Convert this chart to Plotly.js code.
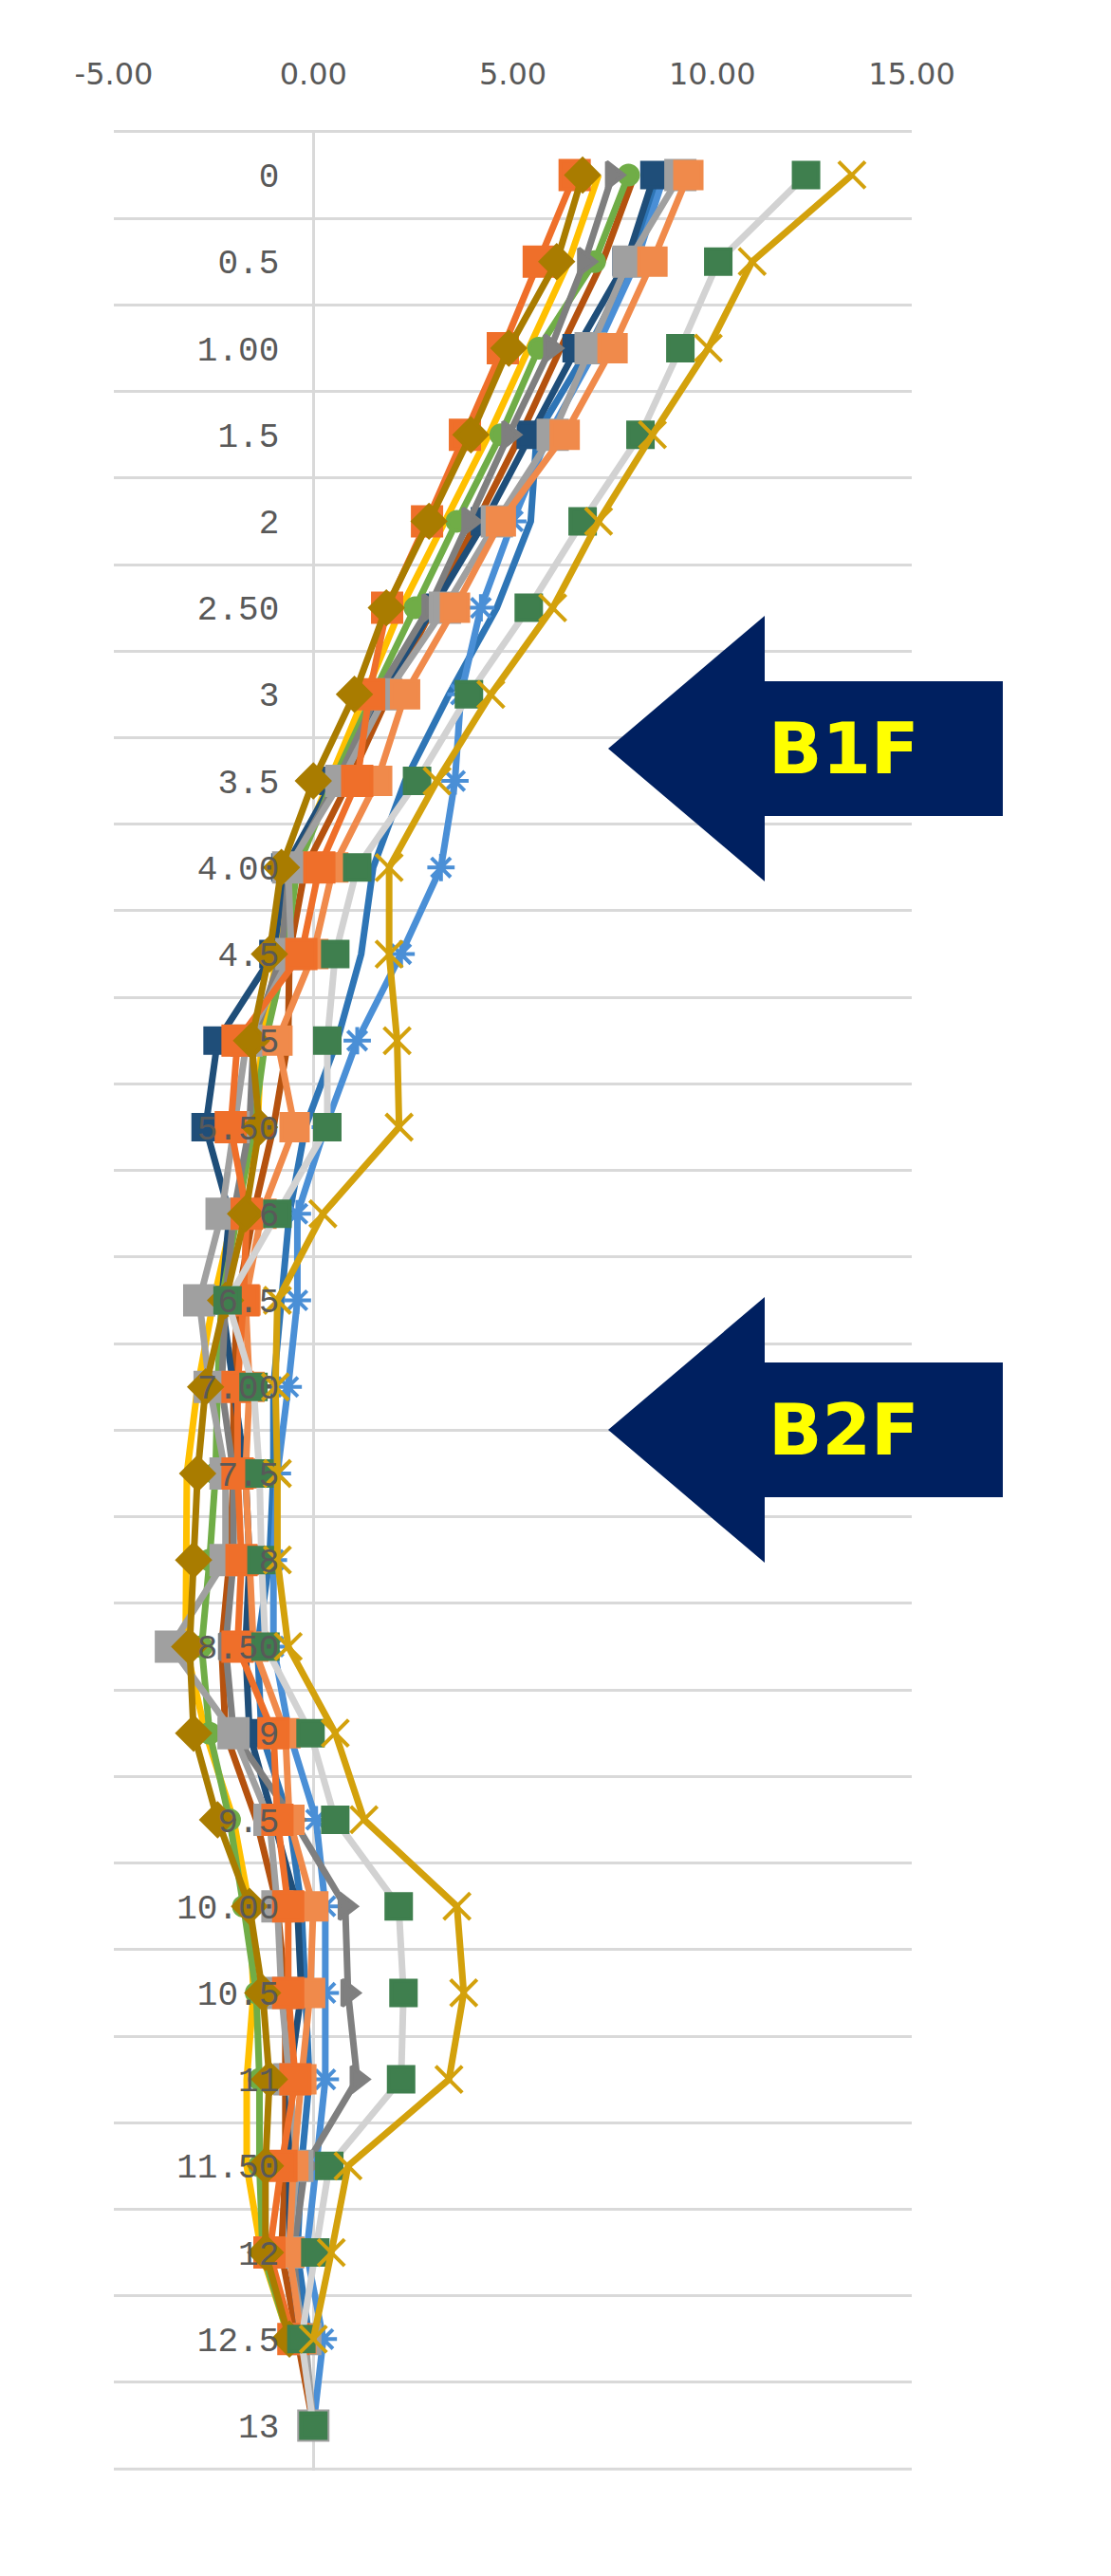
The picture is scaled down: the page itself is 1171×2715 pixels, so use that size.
<!DOCTYPE html>
<html>
<head>
<meta charset="utf-8">
<script src="https://cdn.plot.ly/plotly-3.0.1.min.js"></script>
<style>
  html, body { margin: 0; padding: 0; background: #ffffff; }
  #chart { width: 1171px; height: 2715px; }
</style>
</head>
<body>
<div id="chart"></div>
<script>
width = 1171;
height = 2715;

// depth categories, as printed on the chart
const depthLabels = ["0", "0.5", "1.00", "1.5", "2", "2.50", "3", "3.5", "4.00", "4.5",
  "5", "5.50", "6", "6.5", "7.00", "7.5", "8", "8.50", "9", "9.5",
  "10.00", "10.5", "11", "11.50", "12", "12.5", "13"];

const xTickVals = [-5, 0, 5, 10, 15];
const xTickText = ["-5.00", "0.00", "5.00", "10.00", "15.00"];

const yellowLine   = [7.15, 6.4, 5.4, 4.4, 3.3, 2.2, 1.3, 0.4, -0.5, -0.9, -1.3, -1.4, -2.0, -2.5, -2.9, -3.17, -3.2, -3.2, -2.7, -2.0, -1.6, -1.5, -1.67, -1.67, -1.3, -0.6, null];
const darkOrange   = [8.05, 7.25, 6.2, 5.2, 4.1, 3.0, 1.9, 0.9, -0.2, -0.6, -0.63, -1.0, -1.5, -1.9, -2.0, -2.0, -2.1, -2.3, -2.2, -1.43, -0.9, -0.7, -0.7, -0.7, -0.8, -0.4, 0.0];
const mediumBlue   = [8.7, 8.0, 6.9, 5.6, 5.45, 4.6, 3.4, 2.3, 1.5, 1.2, 0.6, -0.2, -0.6, -0.8, -1.0, -1.0, -1.1, -1.4, -1.3, -0.6, -0.3, -0.2, -0.1, -0.3, -0.4, -0.1, null];
const blueStar     = [8.8, 8.1, 7.1, 5.9, 5.0, 4.2, 3.7, 3.55, 3.2, 2.2, 1.1, 0.3, -0.4, -0.4, -0.63, -0.9, -1.0, -1.0, -0.6, 0.07, 0.3, 0.3, 0.3, 0.07, -0.17, 0.25, 0.0];
const darkBlueSq   = [8.55, 7.85, 6.6, 5.45, 4.3, 3.0, 1.7, 0.5, -0.7, -1.0, -2.4, -2.7, -2.1, -2.3, -2.0, -1.7, -1.6, -1.7, -1.6, -1.0, -0.4, -0.3, -0.6, -0.6, -0.6, -0.3, null];
const greenCircle  = [7.9, 7.05, 5.65, 4.7, 3.6, 2.55, 1.5, 0.5, -0.4, -0.7, -1.2, -1.5, -1.9, -2.3, -2.4, -2.45, -2.6, -2.8, -2.6, -2.1, -1.75, -1.43, -1.35, -1.35, -1.27, -0.6, null];
const grayTriangle = [7.5, 6.8, 5.95, 4.9, 3.9, 2.9, 1.6, 0.6, -0.6, -0.8, -1.5, -1.6, -2.0, -2.2, -2.3, -2.0, -2.0, -2.2, -2.0, -0.5, 0.8, 0.87, 1.1, -0.2, -0.5, -0.3, null];
const graySquare   = [9.2, 7.9, 6.95, 6.0, 4.6, 3.3, 1.83, 0.7, -0.63, -0.55, -1.67, -2.0, -2.3, -2.86, -2.6, -2.2, -2.2, -3.57, -2.0, -1.1, -0.9, -0.8, -0.6, -0.4, -0.63, -0.2, 0.0];
const lightOrange  = [9.4, 8.5, 7.5, 6.3, 4.7, 3.55, 2.3, 1.6, 0.5, 0.0, -0.9, -0.47, -1.3, -1.7, -1.6, -1.7, -1.6, -1.5, -0.7, -0.6, 0.0, -0.08, -0.3, -0.5, -0.6, -0.3, null];
const orangeSquare = [6.55, 5.65, 4.75, 3.8, 2.85, 1.85, 1.4, 1.1, 0.15, -0.3, -1.9, -2.07, -1.67, -1.75, -1.9, -1.9, -1.8, -1.9, -1.0, -0.9, -0.63, -0.63, -0.45, -0.8, -1.1, -0.5, null];
const goldDiamond  = [6.75, 6.1, 4.9, 3.95, 2.9, 1.83, 1.03, 0.0, -0.8, -1.1, -1.55, -1.35, -1.7, -2.2, -2.7, -2.9, -3.0, -3.1, -3.0, -2.4, -1.6, -1.27, -1.1, -1.2, -1.2, -0.6, null];
const lightGray    = [12.35, 10.15, 9.2, 8.2, 6.75, 5.4, 3.9, 2.6, 1.1, 0.55, 0.35, 0.35, -0.9, -2.15, -1.5, -1.35, -1.3, -1.2, -0.07, 0.55, 2.14, 2.26, 2.2, 0.4, 0.05, -0.3, 0.0];
const goldCross    = [13.5, 11.0, 9.9, 8.5, 7.15, 6.0, 4.45, 3.1, 1.9, 1.9, 2.1, 2.15, 0.24, -0.9, -0.95, -0.9, -0.9, -0.63, 0.55, 1.27, 3.6, 3.77, 3.4, 0.87, 0.45, 0.0, null];

function series(values, color, symbol, size, markerColor) {
  return {
    x: values,
    y: depthLabels,
    type: 'scatter',
    mode: symbol ? 'lines+markers' : 'lines',
    line: {color: color, width: 7},
    marker: {
      symbol: symbol || 'circle',
      size: size || 0,
      color: markerColor || color,
      line: {color: markerColor || color, width: 4}
    },
    showlegend: false
  };
}

let data = [
  series(yellowLine, '#FFC000'),
  series(darkOrange, '#B5520F'),
  series(mediumBlue, '#2E75B6'),
  series(blueStar, '#4A8FD6', 'asterisk-open', 24),
  series(darkBlueSq, '#1F4E79', 'square', 26),
  series(greenCircle, '#70AD47', 'circle', 20),
  series(grayTriangle, '#7F7F7F', 'triangle-right', 24),
  series(graySquare, '#A0A0A0', 'square', 30),
  series(lightOrange, '#F08A4B', 'square', 28),
  series(orangeSquare, '#EF6F2A', 'square', 30),
  series(goldDiamond, '#A97C00', 'diamond', 26),
  series(lightGray, '#D2D2D2', 'square', 26, '#3F7F4E'),
  series(goldCross, '#D3A10C', 'x-thin-open', 28)
];

// plot area in page pixels, used to place the two floor arrows
const plotL = 120, plotT = 137, plotW = 841, plotH = 2467;
function pt(x, y) {
  return ((x - plotL) / plotW).toFixed(4) + ',' + (1 - (y - plotT) / plotH).toFixed(4);
}
function arrowPath(tipY) {
  return 'M' + pt(641, tipY) +
    ' L' + pt(806, tipY - 140) +
    ' L' + pt(806, tipY - 71) +
    ' L' + pt(1057, tipY - 71) +
    ' L' + pt(1057, tipY + 71) +
    ' L' + pt(806, tipY + 71) +
    ' L' + pt(806, tipY + 140) + ' Z';
}

const floors = [{text: 'B1F', tipY: 789}, {text: 'B2F', tipY: 1507}];

// a hair wider than the category span so the outer grid lines are kept
const yPad = 0.02;
const yRange = [depthLabels.length - 0.5 + yPad, -0.5 - yPad];
const bottomEdge = yPad / (depthLabels.length + 2 * yPad);

let layout = {
  width: width,
  height: height,
  paper_bgcolor: '#ffffff',
  plot_bgcolor: '#ffffff',
  margin: {l: plotL, r: width - plotL - plotW, t: plotT, b: height - plotT - plotH},
  showlegend: false,
  xaxis: {
    range: [-5, 15],
    side: 'top',
    tickvals: xTickVals,
    ticktext: xTickText,
    ticks: 'outside',
    ticklen: 34,
    tickcolor: 'rgba(0,0,0,0)',
    tickfont: {family: 'DejaVu Sans', size: 32, color: '#595959'},
    showgrid: false,
    zeroline: true,
    zerolinecolor: '#d9d9d9',
    zerolinewidth: 3,
    showline: false
  },
  yaxis: {
    type: 'category',
    categoryorder: 'array',
    categoryarray: depthLabels,
    range: yRange,
    tickson: 'boundaries',
    anchor: 'free',
    position: 0.25,
    ticks: '',
    ticklabelstandoff: 36,
    tickfont: {family: 'Liberation Mono', size: 36, color: '#595959'},
    showgrid: true,
    gridcolor: '#d9d9d9',
    gridwidth: 3,
    zeroline: false,
    showline: false
  },
  shapes: [{
    // closing grid line under the last category
    type: 'line', layer: 'below',
    xref: 'paper', yref: 'paper',
    x0: 0, x1: 1, y0: bottomEdge, y1: bottomEdge,
    line: {color: '#d9d9d9', width: 3}
  }].concat(floors.map(f => ({
    type: 'path',
    xref: 'paper',
    yref: 'paper',
    path: arrowPath(f.tipY),
    fillcolor: '#002060',
    line: {width: 0}
  }))),
  annotations: floors.map(f => ({
    xref: 'paper',
    yref: 'paper',
    x: (889 - plotL) / plotW,
    y: 1 - (f.tipY - plotT) / plotH,
    text: '<b>' + f.text + '</b>',
    showarrow: false,
    xanchor: 'center',
    yanchor: 'middle',
    font: {family: 'DejaVu Sans', size: 74, color: '#FFFF00'}
  }))
};

Plotly.newPlot('chart', data, layout, {displayModeBar: false, staticPlot: true});
</script>
</body>
</html>
